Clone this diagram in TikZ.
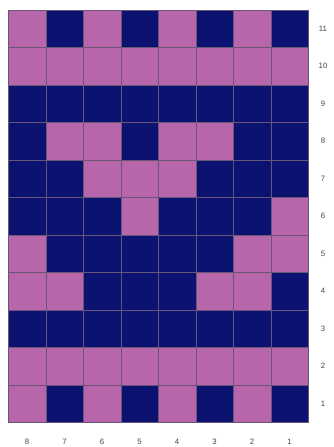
\documentclass[tikz,border=0pt]{standalone}
\usepackage{fontspec}
\setmainfont{Liberation Sans}
\definecolor{pinkc}{RGB}{184,102,172}
\definecolor{navyc}{RGB}{12,18,112}
\definecolor{gridc}{RGB}{105,85,120}
\definecolor{labc}{RGB}{70,70,70}
\tikzset{
  cell/.style={draw=gridc, line width=0.5pt},
  lab/.style={font=\fontsize{7.8}{9}\selectfont, text=labc, inner sep=0pt}
}
\begin{document}
\begin{tikzpicture}[x=1pt,y=-1pt]
\useasboundingbox[fill=white] (0,0) rectangle (334,447);
% rows listed top (11) to bottom (1); columns left (8) to right (1); 1 = pink, 0 = navy
\def\cw{37.5}
\foreach \r/\pat in {0/{1,0,1,0,1,0,1,0},1/{1,1,1,1,1,1,1,1},2/{0,0,0,0,0,0,0,0},3/{0,1,1,0,1,1,0,0},4/{0,0,1,1,1,0,0,0},5/{0,0,0,1,0,0,0,1},6/{1,0,0,0,0,0,1,1},7/{1,1,0,0,0,1,1,0},8/{0,0,0,0,0,0,0,0},9/{1,1,1,1,1,1,1,1},10/{1,0,1,0,1,0,1,0}}{
  \foreach \v [count=\c from 0] in \pat {
    \ifnum\v=1 \def\col{pinkc}\else\def\col{navyc}\fi
    \path[cell, fill=\col] ({8.3+\c*\cw},{10+\r*\cw}) rectangle ++(\cw,\cw);
  }
}
\draw[gridc, line width=0.8pt] (8.3,10) rectangle (308.3,422.5);
\foreach \r [evaluate=\r as \n using int(11-\r)] in {0,...,10}{
  \node[lab] (r\n) at (323,{10+(\r+0.5)*\cw}) {\n};
}
\foreach \c [evaluate=\c as \n using int(8-\c)] in {0,...,7}{
  \node[lab] (c\n) at ({8.3+(\c+0.5)*\cw},441.5) {\n};
}
\end{tikzpicture}
\end{document}
